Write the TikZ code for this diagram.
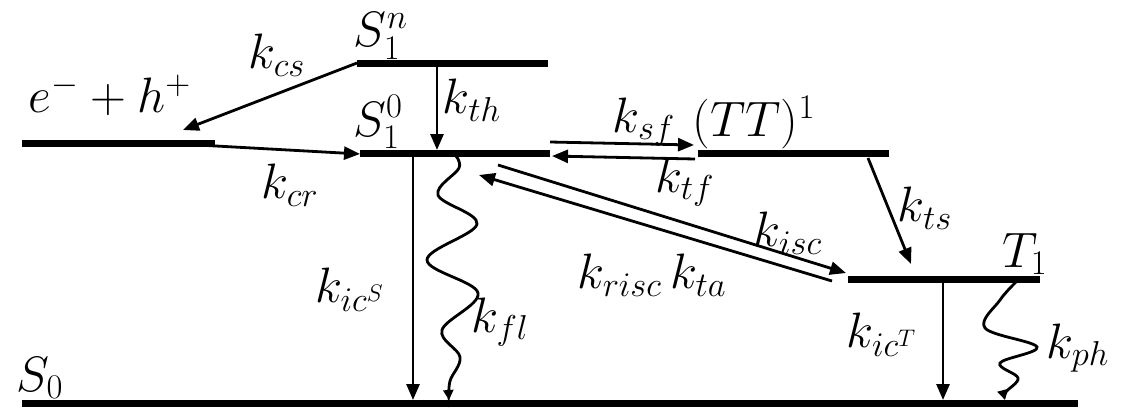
\documentclass[tikz,border=0pt]{standalone}
\usetikzlibrary{arrows.meta}
\begin{document}
\begin{tikzpicture}[x=0.5pt,y=-0.5pt,
  level/.style={line width=3.5pt},
  conn/.style={line width=1.4pt,-{Triangle[length=8pt,width=6.5pt]}},
  wave/.style={line width=1.4pt,-{Triangle[length=5pt,width=5pt]}},
  lbl/.style={inner sep=0pt,font=\fontsize{24.5}{28}\selectfont}]
\useasboundingbox (0,0) rectangle (1122,413);
% level end points
\coordinate (ehL) at (22,143);  \coordinate (ehR) at (215,143);
\coordinate (SnL) at (357,63);  \coordinate (SnR) at (548,63);
\coordinate (S1L) at (360,153); \coordinate (S1R) at (550,153);
\coordinate (TTL) at (698,153); \coordinate (TTR) at (889,153);
\coordinate (T1L) at (848,279); \coordinate (T1R) at (1040,279);
\coordinate (S0L) at (22,403);  \coordinate (S0R) at (1078,403);
% levels
\draw[level] (ehL) -- (ehR);
\draw[level] (SnL) -- (SnR);
\draw[level] (S1L) -- (S1R);
\draw[level] (TTL) -- (TTR);
\draw[level] (T1L) -- (T1R);
\draw[level] (S0L) -- (S0R);
% connector end points
\coordinate (cs0) at (357,63);  \coordinate (cs1) at (183,130);
\coordinate (th0) at (437,64);  \coordinate (th1) at (437,150);
\coordinate (cr0) at (198,145); \coordinate (cr1) at (360,154);
\coordinate (sf0) at (550,142); \coordinate (sf1) at (694,145);
\coordinate (tf0) at (695,159); \coordinate (tf1) at (552,156);
\coordinate (isc0) at (498,165); \coordinate (isc1) at (846,273);
\coordinate (ri0) at (832,281); \coordinate (ri1) at (479,175);
\coordinate (ts0) at (868,158); \coordinate (ts1) at (911,264);
\coordinate (icS0) at (413,154); \coordinate (icS1) at (413,400);
\coordinate (icT0) at (943,280); \coordinate (icT1) at (943,400);
% connectors
\draw[conn] (cs0) -- (cs1);
\draw[conn] (th0) -- (th1);
\draw[conn] (cr0) -- (cr1);
\draw[conn] (sf0) -- (sf1);
\draw[conn] (tf0) -- (tf1);
\draw[conn] (isc0) -- (isc1);
\draw[conn] (ri0) -- (ri1);
\draw[conn] (ts0) -- (ts1);
\draw[conn] (icS0) -- (icS1);
\draw[conn] (icT0) -- (icT1);
% wavy radiative transitions
\draw[wave] plot[smooth,tension=0.6] coordinates {(455,155) (459,168) (438,195) (477,224) (427,260) (478,293) (442,330) (460,357) (450,381) (449,400)};
\draw[wave] plot[smooth,tension=0.6] coordinates {(1016,282) (1000,300) (985,328) (1037,347) (1000,363) (1018,378) (1006,392) (1005,400)};
% labels
\node[lbl] (lSn) at (381,36) {$S_1^n$};
\node[lbl] (lkcs) at (277,55) {$k_{cs}$};
\node[lbl] (leh) at (110,95) {$e^- + h^+$};
\node[lbl] (lS10) at (378,122) {$S_1^0$};
\node[lbl] (lkth) at (472,100) {$k_{th}$};
\node[lbl] (lkcr) at (290,185) {$k_{cr}$};
\node[lbl] (lksf) at (644,122) {$k_{sf}$};
\node[lbl] (lTT) at (754,123) {$(TT)^1$};
\node[lbl] (lktf) at (685,182) {$k_{tf}$};
\node[lbl] (lkts) at (925,208) {$k_{ts}$};
\node[lbl] (lkisc) at (788,233) {$k_{isc}$};
\node[lbl] (lT1) at (1025,254) {$T_1$};
\node[lbl] (lkrisc) at (652,275) {$k_{risc}\,k_{ta}$};
\node[lbl] (lkicS) at (350,290) {$k_{ic^S}$};
\node[lbl] (lkfl) at (500,322) {$k_{fl}$};
\node[lbl] (lkicT) at (882,335) {$k_{ic^T}$};
\node[lbl] (lkph) at (1078,348) {$k_{ph}$};
\node[lbl] (lS0) at (40,378) {$S_0$};
\end{tikzpicture}
\end{document}
